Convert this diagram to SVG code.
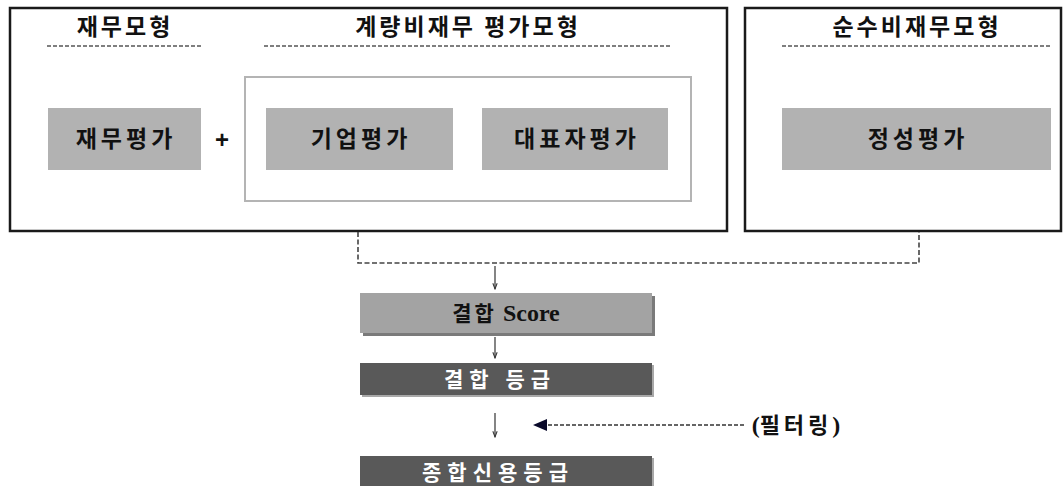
<svg xmlns="http://www.w3.org/2000/svg" width="1064" height="486" viewBox="0 0 1064 486">
<defs>
<style>
.outer{fill:#fff;stroke:#1a1a1a;stroke-width:2.5}
.inner{fill:#fff;stroke:#b4b4b4;stroke-width:2}
.gbox{fill:#b2b2b2}
.hdr{font-family:"Noto Sans CJK KR","Noto Sans",sans-serif;font-weight:700;font-size:23px;fill:#111;text-anchor:middle;letter-spacing:3px}
.lbl{font-family:"Noto Sans CJK KR","Noto Sans",sans-serif;font-weight:700;font-size:23px;fill:#111;text-anchor:middle;letter-spacing:4px}
.ul{stroke:#555;stroke-width:1.5;stroke-dasharray:4 2;fill:none}
.conn{stroke:#444;stroke-width:1.6;stroke-dasharray:5 2.5;fill:none}
.thin{stroke:#333;stroke-width:1.2;fill:none}
.wt{font-family:"Noto Sans CJK KR","Noto Sans",sans-serif;font-weight:700;font-size:21px;fill:#fff;text-anchor:middle;letter-spacing:6px}
.bt{font-family:"Liberation Serif","Noto Sans CJK KR",serif;font-weight:700;font-size:24px;fill:#111;text-anchor:middle}
</style>
<marker id="ah" viewBox="0 0 10 10" refX="9" refY="5" markerWidth="6" markerHeight="6" orient="auto">
<path d="M1,2 L9,5 L1,8" fill="none" stroke="#333" stroke-width="1.4"/>
</marker>
</defs>

<g id="model-financial-nonfinancial">
<rect class="outer" x="10" y="8" width="717" height="223"/>
</g>
<g id="model-pure-nonfinancial">
<rect class="outer" x="745" y="8" width="316" height="223"/>
</g>

<g id="hdr-financial">
<text class="hdr" x="125" y="35">재무모형</text>
<line class="ul" x1="47" y1="46" x2="201" y2="46"/>
</g>
<g id="hdr-quant">
<text class="hdr" x="468" y="35">계량비재무 평가모형</text>
<line class="ul" x1="264" y1="46" x2="670" y2="46"/>
</g>
<g id="hdr-pure">
<text class="hdr" x="917" y="35">순수비재무모형</text>
<line class="ul" x1="782" y1="46" x2="1050" y2="46"/>
</g>

<g id="quant-group">
<rect class="inner" x="245" y="77" width="446" height="124"/>
</g>

<g id="node-fin">
<rect class="gbox" x="48" y="108" width="153" height="62"/>
<text class="lbl" x="126" y="147">재무평가</text>
</g>
<g id="plus">
<text x="222" y="148" font-family="Liberation Sans,sans-serif" font-weight="700" font-size="24" text-anchor="middle" fill="#111">+</text>
</g>
<g id="node-corp">
<rect class="gbox" x="266" y="108" width="187" height="62"/>
<text class="lbl" x="361" y="147">기업평가</text>
</g>
<g id="node-ceo">
<rect class="gbox" x="482" y="108" width="186" height="62"/>
<text class="lbl" x="577" y="147">대표자평가</text>
</g>
<g id="node-qual">
<rect class="gbox" x="782" y="108" width="269" height="62"/>
<text class="lbl" x="918" y="147">정성평가</text>
</g>

<g id="node-score">
<rect x="363" y="296" width="292" height="40" fill="#7a7a7a"/>
<rect x="360" y="293" width="292" height="40" fill="#a3a3a3"/>
<text class="bt" x="506" y="321"><tspan font-family="Noto Sans CJK KR,sans-serif" font-size="21" letter-spacing="3">결합</tspan><tspan dx="6">Score</tspan></text>
</g>
<g id="node-grade">
<rect x="362" y="365" width="292" height="32" fill="#a8a8a8"/>
<rect x="360" y="363" width="292" height="32" fill="#595959"/>
<text class="wt" x="500" y="387">결합 등급</text>
</g>
<g id="node-final">
<rect x="362" y="458" width="292" height="30" fill="#a8a8a8"/>
<rect x="360" y="456" width="292" height="30" fill="#595959"/>
<text class="wt" x="498" y="480" letter-spacing="7">종합신용등급</text>
</g>
<g id="label-filter">
<text class="bt" x="796" y="433"><tspan>(</tspan><tspan font-family="Noto Sans CJK KR,sans-serif" font-size="22" letter-spacing="4">필터링</tspan><tspan>)</tspan></text>
</g>

<g id="connectors">
<path class="conn" d="M358,232 V263 H919 V232"/>
<line class="thin" x1="495" y1="266" x2="495" y2="289" marker-end="url(#ah)"/>
<line class="thin" x1="495" y1="337" x2="495" y2="358" marker-end="url(#ah)"/>
<line class="thin" x1="495" y1="413" x2="495" y2="437" marker-end="url(#ah)"/>
<line x1="744" y1="425" x2="545" y2="425" stroke="#333" stroke-width="1.4" stroke-dasharray="4 2"/>
<polygon points="533,425 547,419 547,431" fill="#0a0a2a"/>
</g>
</svg>
